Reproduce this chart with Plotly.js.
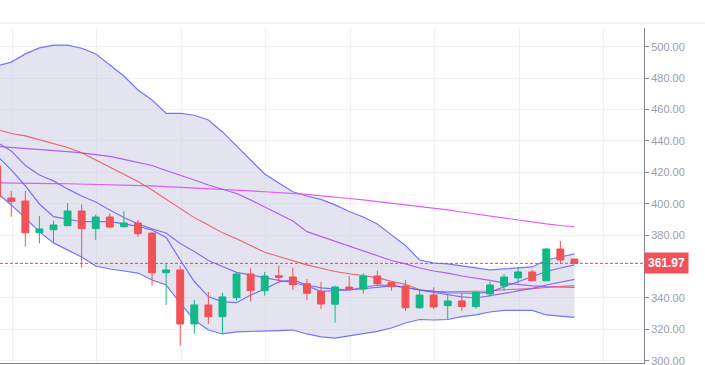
<!DOCTYPE html>
<html>
<head>
<meta charset="utf-8">
<script src="https://cdn.plot.ly/plotly-3.0.1.min.js"></script>
<style>html,body{margin:0;padding:0;background:#fff;}#chart{width:705px;height:365px;}</style>
</head>
<body>
<div id="chart"></div>
<script>
// OHLC candles
const opens  = [424, 403.6, 401.7, 381.5, 383.4, 386.0, 395.3, 384.1, 391.5, 385.3, 387.7, 381.3, 356.0, 357.8, 323.4, 335.5, 328.0, 340.1, 355.2, 344.6, 354.1, 353.3, 349.0, 344.2, 336.0, 346.9, 345.6, 353.9, 349.7, 347.6, 333.7, 341.8, 335.0, 338.0, 334.4, 342.5, 347.6, 352.7, 356.5, 350.9, 371.1, 364.7];
const highs  = [427, 408.1, 408.1, 392.2, 389.0, 400.4, 399.6, 393.0, 393.9, 395.3, 389.6, 381.5, 361.6, 360.3, 338.7, 343.7, 343.3, 356.5, 358.8, 356.5, 360.5, 359.2, 352.0, 350.1, 347.8, 353.9, 355.8, 357.3, 349.9, 351.4, 345.6, 346.7, 341.8, 343.1, 344.0, 350.3, 355.2, 359.7, 357.8, 371.8, 376.2, 364.7];
const lows   = [401, 391.7, 372.6, 374.8, 375.4, 385.5, 359.2, 376.7, 384.7, 385.0, 378.9, 347.8, 335.5, 309.5, 317.0, 323.4, 316.8, 338.2, 337.6, 341.4, 349.3, 345.0, 338.6, 332.9, 324.2, 345.0, 342.7, 347.6, 344.6, 331.6, 333.1, 332.9, 325.9, 331.6, 333.1, 340.8, 344.4, 349.0, 350.9, 350.5, 362.0, 361.97];
const closes = [404.3, 401.3, 381.5, 383.9, 386.4, 395.3, 384.1, 391.5, 385.1, 387.7, 380.9, 356.0, 357.8, 323.4, 335.5, 328.0, 340.6, 355.2, 344.6, 353.9, 353.1, 348.4, 342.9, 336.1, 346.9, 345.6, 353.9, 349.0, 347.1, 333.7, 341.8, 334.2, 338.0, 334.4, 343.5, 348.2, 353.3, 356.5, 350.9, 371.1, 364.1, 361.97];

// Indicators
const bbUpper = [487.7, 490.2, 495.4, 499.2, 501.0, 501.0, 499.0, 495.4, 488.3, 481.3, 472.4, 466.0, 457.5, 457.6, 456.3, 453.3, 445.7, 436.8, 427.8, 418.9, 413.2, 407.6, 404.9, 402.7, 399.2, 395.0, 391.5, 387.1, 380.1, 373.4, 364.1, 362.2, 361.6, 360.3, 359.0, 357.8, 358.4, 359.0, 359.7, 364.1, 366.0, 368.0];
const bbLower = [406.8, 399.2, 390.9, 382.0, 375.0, 370.5, 366.0, 360.3, 358.4, 357.1, 355.8, 351.4, 348.2, 336.7, 325.9, 319.5, 317.0, 318.3, 318.6, 319.2, 319.5, 319.5, 317.0, 315.1, 314.4, 315.7, 317.0, 318.6, 320.8, 324.0, 326.2, 325.9, 326.2, 328.0, 329.1, 331.0, 332.0, 332.0, 332.0, 329.1, 328.2, 327.6];
const bbMiddle = [447.3, 444.7, 443.2, 440.6, 438.0, 435.8, 432.5, 427.9, 423.4, 419.2, 414.1, 408.7, 402.9, 397.2, 391.1, 386.4, 381.4, 377.6, 373.2, 369.1, 366.4, 363.6, 361.0, 358.9, 356.8, 355.4, 354.3, 352.9, 350.5, 348.7, 345.2, 344.1, 343.9, 344.2, 344.1, 344.4, 345.2, 345.5, 345.9, 346.6, 347.1, 347.8];
const maFast = [430.4, 421.5, 411.3, 399.8, 391.7, 389.9, 388.5, 388.5, 388.5, 387.1, 385.5, 383.2, 378.5, 364.1, 350.4, 340.8, 337.4, 336.9, 341.8, 345.7, 350.1, 351.4, 348.2, 346.3, 345.7, 345.0, 345.8, 346.9, 347.6, 346.9, 345.0, 344.1, 343.1, 343.1, 342.9, 343.7, 346.9, 350.1, 353.6, 356.8, 359.0, 361.0];
const maMid = [439.0, 433.6, 424.3, 418.3, 414.5, 409.4, 404.9, 401.1, 396.0, 391.2, 387.1, 383.9, 381.3, 374.6, 369.5, 363.8, 360.0, 356.2, 354.6, 352.7, 351.1, 349.8, 347.6, 344.1, 344.4, 345.0, 346.6, 348.2, 347.9, 346.6, 345.0, 343.4, 341.8, 340.6, 339.9, 341.2, 342.8, 344.4, 346.0, 348.2, 350.1, 351.8];
const maSlow = [436.4, 435.8, 435.2, 434.5, 433.9, 433.2, 432.3, 431.3, 430.1, 428.2, 426.2, 424.3, 421.1, 418.3, 415.1, 411.9, 409.0, 406.5, 402.4, 397.9, 393.4, 389.0, 382.2, 379.1, 376.2, 373.0, 369.9, 366.7, 363.8, 361.6, 359.0, 357.1, 355.8, 353.9, 352.7, 351.1, 349.5, 348.5, 347.6, 347.1, 346.9, 346.6];
const maLong = [413.2, 413.2, 413.0, 412.9, 412.8, 412.7, 412.5, 412.4, 412.2, 411.9, 411.6, 411.3, 410.9, 410.5, 410.0, 409.5, 409.0, 408.5, 408.1, 407.6, 407.1, 406.7, 405.9, 404.9, 404.3, 403.3, 402.4, 401.4, 400.4, 399.4, 398.2, 397.3, 396.0, 394.7, 393.4, 392.2, 390.9, 389.6, 388.4, 387.1, 386.1, 385.3];

const yTicks = [300, 320, 340, 360, 380, 400, 420, 440, 460, 480, 500];
const lastPrice = 361.97;

const xs = closes.map((_, i) => i);
const bandLine = {color: 'rgba(85,85,255,0.8)', width: 1.2};
const xRange = [0.2, 45.94];
const yRange = [298.5, 511.9];
// the 360 label sits under the last-price tag, as in the reference
const yTickText = yTicks.map(v => (Math.abs(v - lastPrice) < 8 ? '' : v.toFixed(2)));

const traces = [
  {type: 'scatter', mode: 'lines', x: xs, y: bbUpper, line: bandLine, hoverinfo: 'skip'},
  {type: 'scatter', mode: 'lines', x: xs, y: bbLower, line: bandLine, fill: 'tonexty', fillcolor: 'rgba(190,190,222,0.42)', hoverinfo: 'skip'},
  {type: 'scatter', mode: 'lines', x: xs, y: maLong, line: {color: '#e35bf8', width: 1.2}, hoverinfo: 'skip'},
  {type: 'scatter', mode: 'lines', x: xs, y: maSlow, line: {color: '#b35ff0', width: 1.2}, hoverinfo: 'skip'},
  {type: 'scatter', mode: 'lines', x: xs, y: bbMiddle, line: {color: 'rgba(236,86,92,0.9)', width: 1.1}, hoverinfo: 'skip'},
  {type: 'scatter', mode: 'lines', x: xs, y: maMid, line: {color: 'rgba(130,95,245,0.9)', width: 1.2}, hoverinfo: 'skip'},
  {type: 'scatter', mode: 'lines', x: xs, y: maFast, line: bandLine, hoverinfo: 'skip'},
  {type: 'candlestick', x: xs, open: opens, high: highs, low: lows, close: closes,
   xaxis: 'x2', yaxis: 'y2',
   increasing: {line: {color: '#12b886', width: 1}, fillcolor: '#12b886'},
   decreasing: {line: {color: '#f05257', width: 1}, fillcolor: '#f05257'},
   whiskerwidth: 0}
];

const layout = {
  width: 705, height: 365,
  margin: {l: 0, r: 61, t: 28, b: 2, pad: 0},
  paper_bgcolor: '#ffffff', plot_bgcolor: '#ffffff',
  showlegend: false,
  font: {family: 'Liberation Sans, Arial, sans-serif'},
  xaxis: {
    range: xRange, tick0: 1.07, dtick: 6, showticklabels: false,
    showgrid: true, gridcolor: '#f1f1f4', zeroline: false,
    showline: true, linecolor: '#7f8694', linewidth: 1, ticks: '',
    fixedrange: true
  },
  xaxis2: {
    overlaying: 'x', range: xRange, showticklabels: false, showgrid: false,
    zeroline: false, showline: false, ticks: '', rangeslider: {visible: false}, fixedrange: true
  },
  yaxis: {
    side: 'right', range: yRange, tickmode: 'array', tickvals: yTicks, ticktext: yTickText,
    ticks: 'outside', ticklen: 4, tickcolor: '#7f8694',
    showline: true, linecolor: '#7f8694', linewidth: 1,
    showgrid: true, gridcolor: '#f1f1f4', zeroline: false,
    ticklabeloverflow: 'allow',
    tickfont: {family: 'Liberation Sans, Arial, sans-serif', size: 11, color: '#999ea8'},
    fixedrange: true
  },
  yaxis2: {
    overlaying: 'y', side: 'right', range: yRange, showticklabels: false, showgrid: false,
    zeroline: false, showline: false, ticks: '', fixedrange: true
  },
  shapes: [
    {type: 'line', xref: 'paper', yref: 'paper', x0: 0, x1: 1.1, y0: 1.0149, y1: 1.0149,
     line: {color: '#e6e6e8', width: 1}},
    {type: 'line', xref: 'paper', yref: 'y', x0: 0, x1: 1, y0: lastPrice, y1: lastPrice,
     line: {color: '#e8474d', width: 1, dash: '3px,2px'}}
  ],
  annotations: [
    {xref: 'paper', yref: 'y', x: 1, y: lastPrice, xanchor: 'left', yanchor: 'middle',
     text: '<b>' + lastPrice.toFixed(2) + '</b>', showarrow: false,
     bgcolor: '#f05257', borderpad: 3,
     font: {family: 'Liberation Sans, Arial, sans-serif', size: 12, color: '#ffffff'}}
  ]
};

Plotly.newPlot('chart', traces, layout, {displayModeBar: false, staticPlot: true});
</script>
</body>
</html>
